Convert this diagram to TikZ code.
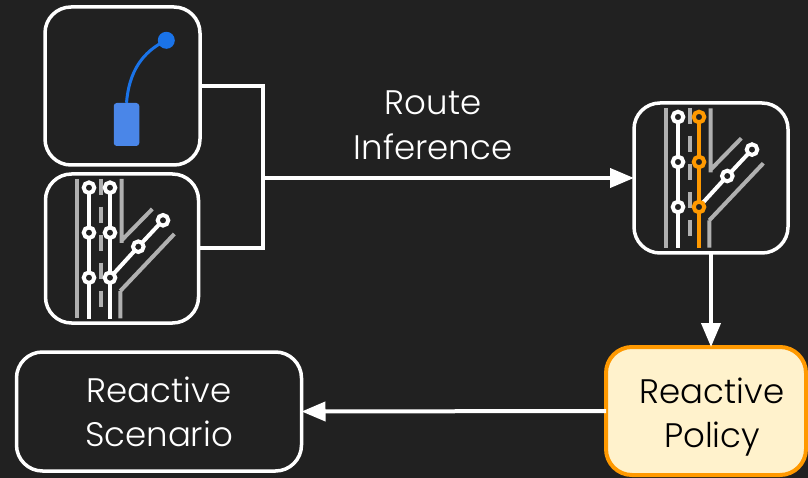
\documentclass[tikz,border=0pt]{standalone}
\usepackage{fontspec}
\setmainfont{Poppins Light}
\usetikzlibrary{arrows.meta}
\definecolor{bgc}{HTML}{212121}
\definecolor{lane}{HTML}{B0B0B0}
\definecolor{routeor}{HTML}{FF9900}
\definecolor{policyfill}{HTML}{FFF2CC}
\definecolor{carblue}{HTML}{4A86E8}
\definecolor{pathblue}{HTML}{1A73E8}
\tikzset{
  x=1pt,y=-1pt,
  box/.style={draw=white,line width=3.5pt,rounded corners=26pt,anchor=center,inner sep=0pt,outer sep=0pt,align=center,text=white,font=\fontsize{34}{44}\selectfont},
  conn/.style={draw=white,line width=4pt},
  arr/.style={conn,-{Triangle[length=24pt,width=19pt]}},
  lanemark/.style={draw=lane,line width=4pt},
  roadw/.style={draw=white,line width=4pt},
  roado/.style={draw=routeor,line width=4pt},
  wpw/.style={circle,draw=white,fill=bgc,line width=4pt,minimum size=10.6pt,inner sep=0pt},
  roadwwp/.style={},
  roadowp/.style={draw=routeor},
}
\newcommand{\roadnet}[3]{%
  \begin{scope}[shift={(#1,#2)}]
    \draw[lanemark] (77,179)--(77,318.3);
    \draw[lanemark] (100.7,179)--(100.7,195) (100.7,206.7)--(100.7,222.7) (100.7,234.7)--(100.7,250.7) (100.7,262.7)--(100.7,278.7) (100.7,290.7)--(100.7,306.7);
    \draw[lanemark] (121.7,179)--(121.7,243) (121.7,240.3)--(152.3,209);
    \draw[lanemark] (120.3,318.3)--(120.3,291) (120.3,291)--(174.3,234);
    \draw[roadw] (89,187.7)--(89,319);
    \draw[roadw] (110,277.7)--(138.3,246.7)--(163,220.3);
    \draw[#3] (110,187.7)--(110,319);
    \node[wpw] (n1#1) at (89,187.7) {};
    \node[wpw] (n2#1) at (89,232.7) {};
    \node[wpw] (n3#1) at (89,277.7) {};
    \node[wpw] (n4#1) at (138.3,246.7) {};
    \node[wpw] (n5#1) at (163,220.3) {};
    \node[wpw,#3wp] (n6#1) at (110,187.7) {};
    \node[wpw,#3wp] (n7#1) at (110,232.7) {};
    \node[wpw,#3wp] (n8#1) at (110,277.7) {};
  \end{scope}}
\begin{document}
\begin{tikzpicture}
\useasboundingbox (0,0) rectangle (808,478);
\fill[bgc] (0,0) rectangle (808,478);
\node[box,minimum width=155pt,minimum height=158pt] (goal) at (122.5,86) {};
\node[box,minimum width=153pt,minimum height=149pt] (map) at (122,248.5) {};
\node[box,minimum width=154pt,minimum height=150pt] (route) at (711,178) {};
\node[box,minimum width=285pt,minimum height=119pt] (scenario) at (159,411.5) {\rule{0pt}{27pt}Reactive\\Scenario};
\node[box,draw=routeor,fill=policyfill,text=black,line width=4pt,minimum width=200pt,minimum height=128pt] (policy) at (706,411) {\rule{0pt}{38pt}\hspace*{12pt}Reactive\\\hspace*{12pt}Policy};
\node[text=white,align=center,font=\fontsize{34}{45}\selectfont,inner sep=0pt] (label) at (433,125) {Route\\Inference};
% goal icon
\node[fill=carblue,rounded corners=3pt,minimum width=25.5pt,minimum height=43pt,inner sep=0pt] (car) at (126.5,124.5) {};
\node[circle,fill=pathblue,minimum size=17pt,inner sep=0pt] (dest) at (166.3,40.3) {};
\draw[pathblue,line width=3pt] (car.north) .. controls (129,72) and (142,52) .. (dest.center);
\roadnet{0}{0}{roadw}
\roadnet{589}{-70.7}{roado}
% connectors
\coordinate (j) at (263,178);
\draw[conn,line join=miter] (goal.east) -| (j) |- (map.east);
\draw[arr] (j) -- (route.west);
\draw[arr] (route.south) -- (route.south |- policy.north);
\draw[arr] (policy.west) -- (scenario.east);
\end{tikzpicture}
\end{document}
